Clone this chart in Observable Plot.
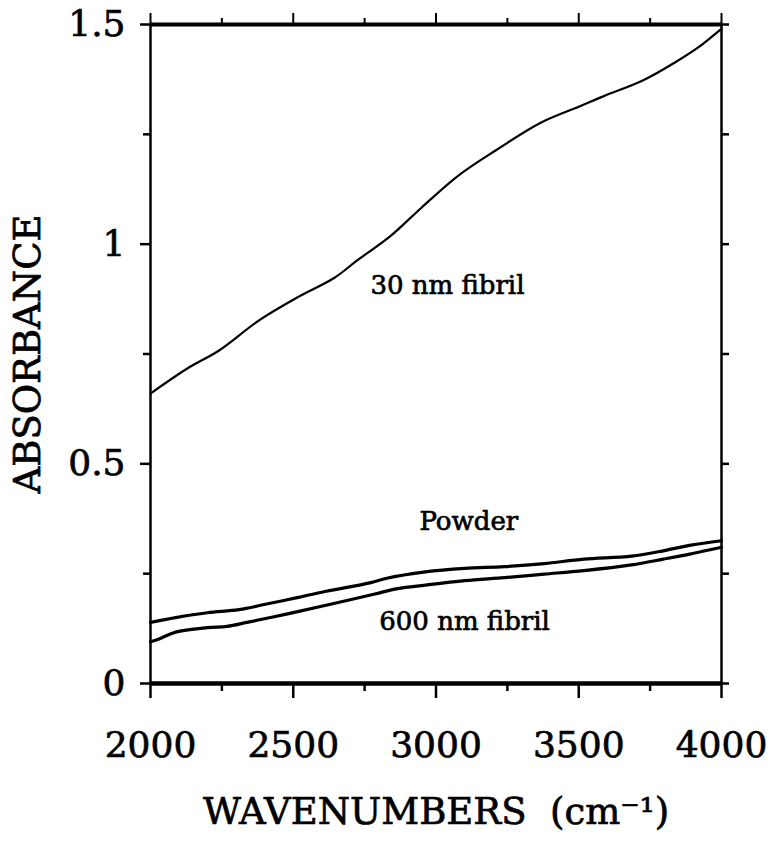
<!DOCTYPE html>
<html>
<head>
<meta charset="utf-8">
<script src="https://cdn.jsdelivr.net/npm/d3@7"></script>
<script src="https://cdn.jsdelivr.net/npm/@observablehq/plot@0.6"></script>
<style>
  html, body { margin: 0; padding: 0; background: #fff; }
  #chart svg { display: block; }
</style>
</head>
<body>
<div id="chart"></div>
<script>
// ---- data ----
const fibril30Wn  = [2000, 2129, 2240, 2379, 2518, 2643, 2726, 2838, 2949, 3074, 3213, 3365, 3504, 3588, 3726, 3838, 3921, 3990, 4000];
const fibril30Abs = [0.660, 0.717, 0.758, 0.826, 0.880, 0.923, 0.964, 1.017, 1.083, 1.154, 1.215, 1.276, 1.314, 1.337, 1.373, 1.414, 1.449, 1.485, 1.490];

const powderWn  = [2000, 2088, 2199, 2310, 2407, 2518, 2615, 2768, 2824, 2963, 3101, 3240, 3379, 3518, 3685, 3796, 3893, 4000];
const powderAbs = [0.139, 0.150, 0.161, 0.168, 0.181, 0.196, 0.210, 0.229, 0.239, 0.254, 0.262, 0.266, 0.273, 0.283, 0.290, 0.302, 0.315, 0.325];

const fibril600Wn  = [2000, 2032, 2088, 2199, 2268, 2338, 2476, 2615, 2782, 2865, 2963, 3101, 3240, 3379, 3518, 3685, 3796, 3893, 4000];
const fibril600Abs = [0.095, 0.102, 0.117, 0.127, 0.130, 0.139, 0.158, 0.178, 0.203, 0.216, 0.224, 0.234, 0.241, 0.249, 0.257, 0.270, 0.283, 0.295, 0.310];

const labelTexts = ["30 nm fibril", "Powder", "600 nm fibril"];
const labelWn    = [3040, 3115, 3100];
const labelAbs   = [0.905, 0.368, 0.14];

const xMajorTicks = [2000, 2500, 3000, 3500, 4000];
const xMinorTicks = [2250, 2750, 3250, 3750];
const yMajorTicks = [0, 0.5, 1, 1.5];
const yMinorTicks = [0.25, 0.75, 1.25];
const yTickLabels = ["0", "0.5", "1", "1.5"];

const xTitle = "WAVENUMBERS  (cm\u207B\u00B9)";
const yTitle = "ABSORBANCE";

// ---- build tables ----
const toRows = (xs, ys) => xs.map((x, i) => ({x, y: ys[i]}));
const s30 = toRows(fibril30Wn, fibril30Abs);
const sPow = toRows(powderWn, powderAbs);
const s600 = toRows(fibril600Wn, fibril600Abs);
const labels = labelTexts.map((t, i) => ({t, x: labelWn[i], y: labelAbs[i]}));

const font = "DejaVu Serif";

const chart = Plot.plot({
  width: 780,
  height: 841,
  marginLeft: 150,
  marginRight: 59,
  marginTop: 24,
  marginBottom: 158,
  style: {fontFamily: font, background: "#fff", color: "#000"},
  x: {domain: [2000, 4000]},
  y: {domain: [0, 1.5]},
  marks: [
    // left axis (labels + major ticks)
    Plot.axisY({ticks: yMajorTicks, tickSize: 10, tickPadding: 15, fontSize: 36, strokeWidth: 2.5,
      tickFormat: d => yTickLabels[yMajorTicks.indexOf(d)],
      label: yTitle, labelAnchor: "center", labelArrow: "none", labelOffset: 137}),
    Plot.axisY({ticks: yMinorTicks, tickSize: 7, strokeWidth: 2.5, fill: "none", label: null}),
    // right axis ticks
    Plot.axisY({anchor: "right", ticks: [...yMajorTicks, ...yMinorTicks], tickSize: 7, strokeWidth: 2.5, fill: "none", label: null}),
    // bottom axis
    Plot.axisX({ticks: xMajorTicks, tickSize: 15, tickPadding: 33, fontSize: 36, strokeWidth: 2.5,
      tickFormat: d => String(d),
      label: xTitle, labelAnchor: "center", labelArrow: "none", labelOffset: 140}),
    Plot.axisX({ticks: xMinorTicks, tickSize: 8, strokeWidth: 2.5, fill: "none", label: null}),
    // top axis ticks
    Plot.axisX({anchor: "top", ticks: xMajorTicks, tickSize: 12, strokeWidth: 2, fill: "none", label: null}),
    Plot.axisX({anchor: "top", ticks: xMinorTicks, tickSize: 7, strokeWidth: 2, fill: "none", label: null}),
    // frame
    Plot.ruleY([0], {strokeWidth: 4.5}),
    Plot.ruleY([1.5], {strokeWidth: 4}),
    Plot.ruleX([2000], {strokeWidth: 2.5}),
    Plot.ruleX([4000], {strokeWidth: 2.5}),
    // spectra
    Plot.line(s30, {x: "x", y: "y", stroke: "#000", strokeWidth: 2.2, curve: "catmull-rom"}),
    Plot.line(sPow, {x: "x", y: "y", stroke: "#000", strokeWidth: 3.2, curve: "catmull-rom"}),
    Plot.line(s600, {x: "x", y: "y", stroke: "#000", strokeWidth: 3.2, curve: "catmull-rom"}),
    // curve labels
    Plot.text(labels, {x: "x", y: "y", text: "t", fontSize: 26, fill: "#000", fontFamily: font})
  ]
});

// axis titles: size; all texts slightly heavier (print-like)
chart.querySelectorAll("g[aria-label='x-axis label'] text, g[aria-label='y-axis label'] text").forEach(t => {
  t.setAttribute("font-size", "37");
});
chart.querySelectorAll("text").forEach(t => {
  t.setAttribute("stroke", "#000");
  t.setAttribute("stroke-width", "0.7");
});
document.getElementById("chart").appendChild(chart);
</script>
</body>
</html>
